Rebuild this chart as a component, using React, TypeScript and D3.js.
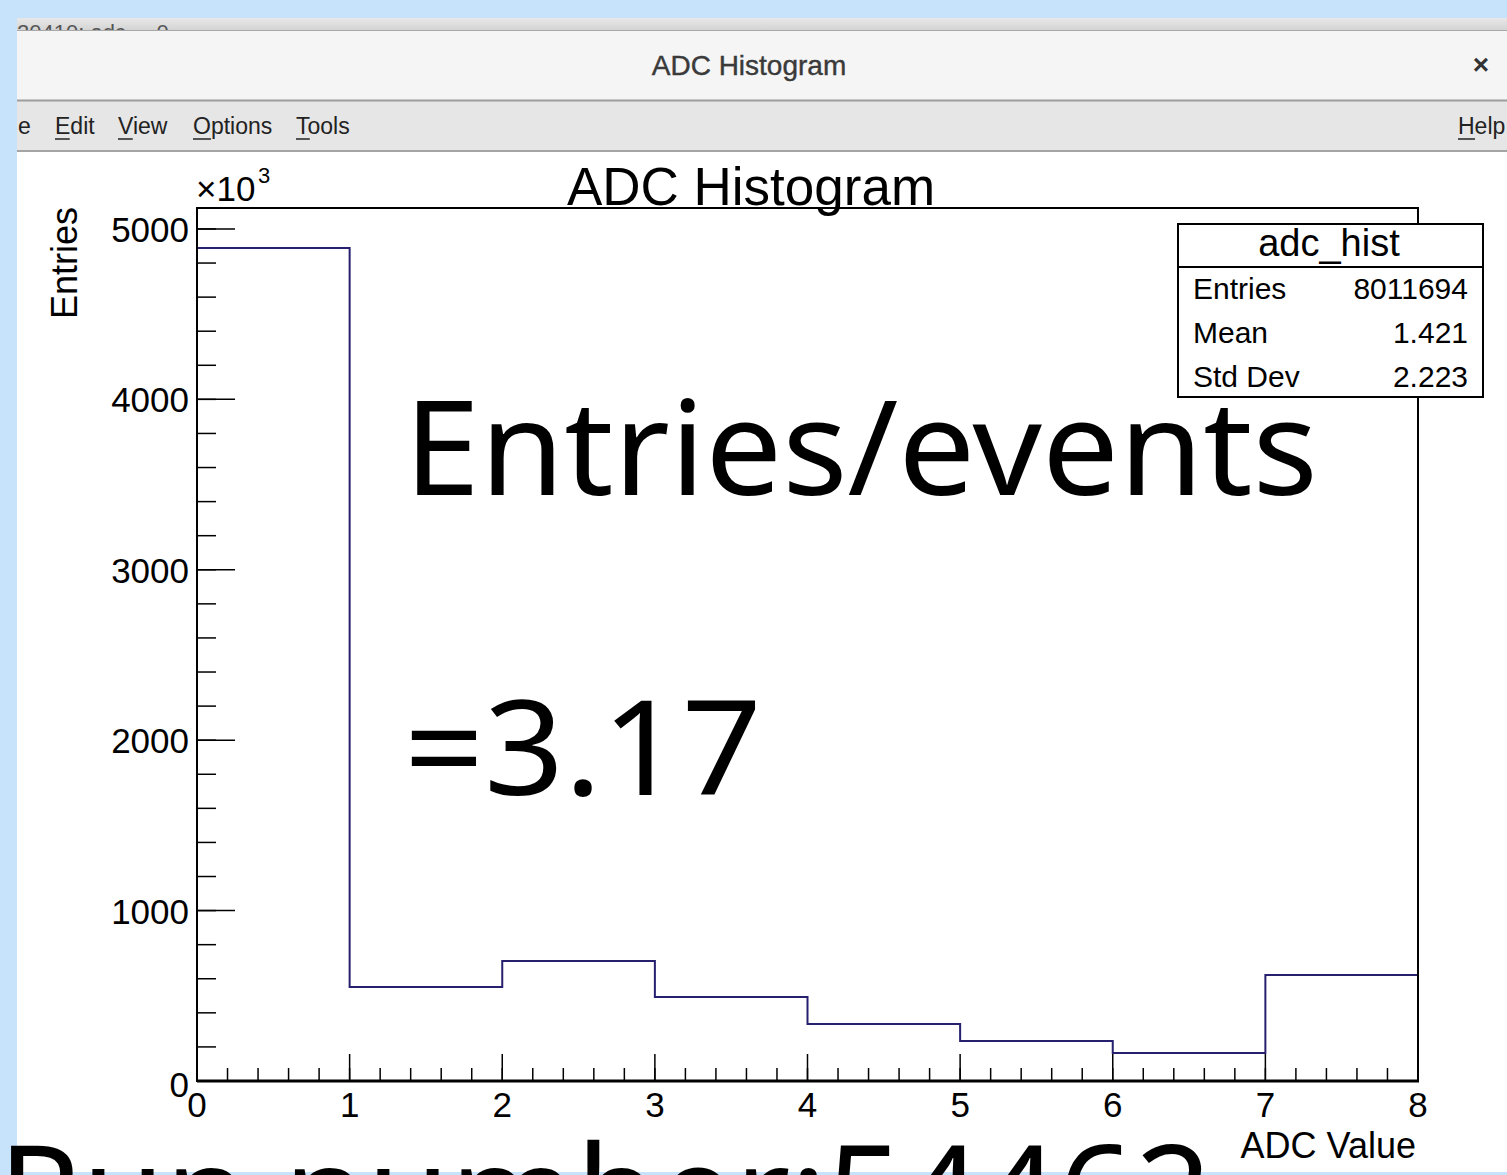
import React from 'react';
import * as d3 from 'd3';

// histogram contents (entries in units of 10^3)
const binLowEdges = [0, 1, 2, 3, 4, 5, 6, 7];
const binCounts = [4888, 552, 704, 493, 335, 235, 164, 622];
const binWidth = 1;

const statsTitle = 'adc_hist';
const statsLabels = ['Entries', 'Mean', 'Std Dev'];
const statsValues = ['8011694', '1.421', '2.223'];

const menuItems = [
  { label: 'e', x: 18, u: -1 },
  { label: 'Edit', x: 55, u: 0 },
  { label: 'View', x: 118, u: 0 },
  { label: 'Options', x: 193, u: 0 },
  { label: 'Tools', x: 296, u: 0 },
];

const W = 1507;
const H = 1175;
const ROOT_FONT = '"Liberation Sans", Arial, Helvetica, sans-serif';
const BIG_FONT = '"Noto Sans", "Noto Sans CJK JP", sans-serif';

const frame = { left: 197, right: 1418, top: 208, bottom: 1081 };

const App = () => {
  const x = d3.scaleLinear().domain([0, 8]).range([frame.left, frame.right]);
  const yMax = 5123;
  const y = d3.scaleLinear().domain([0, yMax]).range([frame.bottom, frame.top]);

  const xMajor = x.ticks(8);
  const xMinor = x.ticks(40);
  const yMajor = y.ticks(5);
  const yMinor = y.ticks(25);

  // step outline of the histogram
  const pts: [number, number][] = [[x(binLowEdges[0]), y(0)]];
  binLowEdges.forEach((lo, i) => {
    pts.push([x(lo), y(binCounts[i])]);
    pts.push([x(lo + binWidth), y(binCounts[i])]);
  });
  pts.push([x(binLowEdges[binLowEdges.length - 1] + binWidth), y(0)]);
  const histPath = d3.line()(pts) || '';

  const menuFontSize = 23;

  return (
    <div style={{ position: 'absolute', left: 0, top: 0, width: W, height: H, overflow: 'hidden' }}>
      <svg width={W} height={H} style={{ display: 'block' }}>
        <defs>
          <clipPath id="behindClip">
            <rect x={17} y={18} width={W} height={12} />
          </clipPath>
          <linearGradient id="topStrip" x1="0" y1="0" x2="0" y2="1">
            <stop offset="0" stopColor="#e8e8e8" />
            <stop offset="1" stopColor="#d4d4d4" />
          </linearGradient>
        </defs>
        {/* desktop background */}
        <rect x={0} y={0} width={W} height={H} fill="#c7e3fb" />

        {/* window behind, mostly hidden */}
        <rect x={17} y={18} width={W} height={12} fill="url(#topStrip)" />
        <text x={17} y={40} fontFamily={ROOT_FONT} fontSize={22} fill="#555" clipPath="url(#behindClip)">
          20410: adc&#160;&#160;&#160;&#160;&#160;0
        </text>

        {/* title bar */}
        <rect x={17} y={30} width={W} height={71} fill="#f5f5f5" />
        <line x1={17} x2={W} y1={30.5} y2={30.5} stroke="#a8a8a8" strokeWidth={1} />
        <text x={749} y={75} textAnchor="middle" fontFamily={ROOT_FONT} fontSize={28} fill="#3a3a3a"
          stroke="#3a3a3a" strokeWidth={0.4}>
          ADC Histogram
        </text>
        <text x={1481} y={74} textAnchor="middle" fontFamily={ROOT_FONT} fontSize={28} fontWeight="bold" fill="#333">
          ×
        </text>

        {/* menu bar */}
        <rect x={17} y={101} width={W} height={50} fill="#e6e6e6" />
        <line x1={17} x2={W} y1={100.5} y2={100.5} stroke="#9c9c9c" strokeWidth={2} />
        <line x1={17} x2={W} y1={151} y2={151} stroke="#a4a4a4" strokeWidth={2} />
        {menuItems.map((m) => (
          <g key={m.label}>
            <text x={m.x} y={134} fontFamily={ROOT_FONT} fontSize={menuFontSize} fill="#222">
              {m.label}
            </text>
            {m.u >= 0 && (
              <line x1={m.x} x2={m.x + menuFontSize * (m.label[0] === 'O' ? 0.78 : m.label[0] === 'T' ? 0.6 : 0.64)}
                y1={139} y2={139} stroke="#222" strokeWidth={1.5} />
            )}
          </g>
        ))}
        <text x={1458} y={134} fontFamily={ROOT_FONT} fontSize={menuFontSize} fill="#222">Help</text>
        <line x1={1458} x2={1475} y1={139} y2={139} stroke="#222" strokeWidth={1.5} />

        {/* canvas */}
        <rect x={17} y={152} width={W} height={1020} fill="#ffffff" />
        <rect x={17} y={1172} width={W} height={3} fill="#c7e3fb" />

        {/* histogram */}
        <path d={histPath} fill="none" stroke="#26206e" strokeWidth={2} />

        {/* frame */}
        <rect x={frame.left} y={frame.top} width={frame.right - frame.left} height={frame.bottom - frame.top}
          fill="none" stroke="#000" strokeWidth={2} />
        <line x1={frame.left} x2={frame.right + 1} y1={frame.bottom} y2={frame.bottom} stroke="#000" strokeWidth={3} />

        {/* x axis ticks */}
        {xMinor.map((t) => (
          <line key={'xm' + t} x1={x(t)} x2={x(t)} y1={frame.bottom} y2={frame.bottom - 13} stroke="#000" strokeWidth={1.5} />
        ))}
        {xMajor.map((t) => (
          <line key={'xM' + t} x1={x(t)} x2={x(t)} y1={frame.bottom} y2={frame.bottom - 27} stroke="#000" strokeWidth={1.5} />
        ))}
        {xMajor.map((t) => (
          <text key={'xl' + t} x={x(t)} y={1117} textAnchor="middle" fontFamily={ROOT_FONT} fontSize={35} fill="#000">
            {t}
          </text>
        ))}
        <text x={frame.right - 2} y={1158} textAnchor="end" fontFamily={ROOT_FONT} fontSize={36} fill="#000">
          ADC Value
        </text>

        {/* y axis ticks */}
        {yMinor.map((t) => (
          <line key={'ym' + t} x1={frame.left} x2={frame.left + 19} y1={y(t)} y2={y(t)} stroke="#000" strokeWidth={1.5} />
        ))}
        {yMajor.map((t) => (
          <line key={'yM' + t} x1={frame.left} x2={frame.left + 38} y1={y(t)} y2={y(t)} stroke="#000" strokeWidth={1.5} />
        ))}
        {yMajor.map((t) =>
          t === 0 ? (
            <text key={'yl0'} x={189} y={1097} textAnchor="end" fontFamily={ROOT_FONT} fontSize={35} fill="#000">0</text>
          ) : (
            <text key={'yl' + t} x={189} y={y(t) + 13} textAnchor="end" fontFamily={ROOT_FONT} fontSize={35} fill="#000">
              {t}
            </text>
          )
        )}
        <text x={196} y={201} fontFamily={ROOT_FONT} fontSize={35} fill="#000">
          ×10
        </text>
        <text x={258} y={183} fontFamily={ROOT_FONT} fontSize={22} fill="#000">3</text>
        <text transform="translate(77,207) rotate(-90)" textAnchor="end" fontFamily={ROOT_FONT} fontSize={36} fill="#000">
          Entries
        </text>

        {/* title */}
        <text x={751} y={205} textAnchor="middle" fontFamily={ROOT_FONT} fontSize={53} fill="#000">
          ADC Histogram
        </text>

        {/* stats box */}
        <rect x={1178} y={224} width={305} height={173} fill="#fff" stroke="#000" strokeWidth={2} />
        <line x1={1178} x2={1483} y1={267} y2={267} stroke="#000" strokeWidth={2} />
        <text x={1329} y={256} textAnchor="middle" fontFamily={ROOT_FONT} fontSize={38} fill="#000">{statsTitle}</text>
        {statsLabels.map((l, i) => (
          <g key={l}>
            <text x={1193} y={299 + i * 44} fontFamily={ROOT_FONT} fontSize={30} fill="#000">{l}</text>
            <text x={1468} y={299 + i * 44} textAnchor="end" fontFamily={ROOT_FONT} fontSize={30} fill="#000">
              {statsValues[i]}
            </text>
          </g>
        ))}

        {/* overlay annotations */}
        <text x={404} y={495} fontFamily={BIG_FONT} fontSize={132} fill="#000"
          textLength={914} lengthAdjust="spacingAndGlyphs">Entries/events</text>
        <text x={404} y={795} fontFamily={BIG_FONT} fontSize={132} fill="#000"
          textLength={358} lengthAdjust="spacingAndGlyphs">=3.17</text>
        <text x={-2} y={1240} fontFamily={BIG_FONT} fontSize={132} fill="#000"
          textLength={1214} lengthAdjust="spacingAndGlyphs">Run number:54462</text>
      </svg>
    </div>
  );
};

export default App;
